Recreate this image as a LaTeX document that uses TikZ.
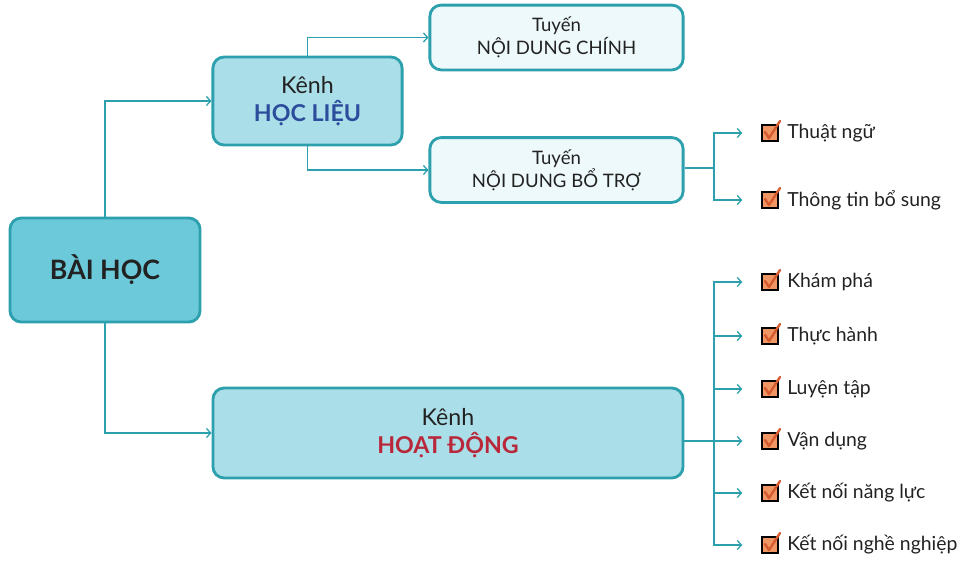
\documentclass[tikz,border=0pt]{standalone}
\usepackage{fontspec}
\setmainfont{Lato}
\usetikzlibrary{arrows.meta, positioning}
\definecolor{myteal}{RGB}{44,160,172}
\definecolor{mycyan}{RGB}{108,201,217}
\definecolor{mylight}{RGB}{170,222,232}
\definecolor{mypale}{RGB}{238,249,251}
\definecolor{myblue}{RGB}{44,76,156}
\definecolor{myred}{RGB}{184,40,58}
\definecolor{mypeach}{RGB}{240,150,100}
\definecolor{mytick}{RGB}{214,92,48}
\definecolor{mytext}{RGB}{34,34,34}
\tikzset{
  >={Straight Barb[length=3pt,width=6.5pt]},
  box/.style={draw=myteal, line width=2pt, rounded corners=8pt, align=center, text=mytext, inner sep=0},
  box main/.style={box, fill=mycyan, minimum width=4.75cm, minimum height=2.6cm, font=\fontsize{19}{23}\selectfont\bfseries},
  box kenh/.style={box, fill=mylight, minimum height=2.2cm, font=\fontsize{16.5}{20}\selectfont},
  box tuyen/.style={box, fill=mypale, minimum width=6.33cm, minimum height=1.62cm, font=\fontsize{13.2}{16.5}\selectfont},
  link/.style={myteal, line width=0.9pt},
  chkbox/.style={draw=black, line width=1.5pt, fill=mypeach, minimum size=0.42cm, inner sep=0},
  tick/.style={mytick, line width=1.7pt, line cap=round, line join=round},
  item/.style={anchor=west, text=mytext, inner sep=0, font=\fontsize{13.8}{17}\selectfont}
}

\begin{document}
\begin{tikzpicture}[x=0.025cm, y=-0.025cm]
\useasboundingbox (0,0) rectangle (965,560);

% Root
\node[box main] (baihoc) at (105,270) {BÀI HỌC};

% -------- Kenh 1 --------
\node[box kenh, minimum width=4.73cm] (hoclieu) at (307.5,101)
  {Kênh\\{\fontsize{16.5}{20}\selectfont\bfseries\color{myblue}HỌC LIỆU}};
\node[box tuyen] (chinh) at (556.5,37.5) {Tuyến\\NỘI DUNG CHÍNH};
\node[box tuyen] (botro) at (556.5,170) {Tuyến\\NỘI DUNG BỔ TRỢ};

% -------- Kenh 2 --------
\node[box kenh, minimum width=11.75cm, minimum height=2.25cm] (hoatdong) at (448,433)
  {Kênh\\{\fontsize{16.5}{20}\selectfont\bfseries\color{myred}HOẠT ĐỘNG}};

% Forks
\coordinate (fork1) at (714,168);
\coordinate (fork2) at (714,441);

% Checklist items
\foreach \i/\y/\t in {1/133/Thuật ngữ, 2/200/Thông tin bổ sung,
    3/282/Khám phá, 4/336/Thực hành, 5/389/Luyện tập, 6/441/Vận dụng,
    7/493/Kết nối năng lực, 8/545/Kết nối nghề nghiệp}{
  \node[chkbox] (b\i) at (770,\y) {};
  \draw[tick] (b\i.center) ++(-5,-1) -- ++(4,6) -- ++(11,-17);
  \node[item] (t\i) at (787,\y) {\t};
}

% Connections from root
\draw[link,->] (baihoc.north) |- (hoclieu.west);
\draw[link,->] (baihoc.south) |- (hoatdong.west);

% Connections from Kenh 1
\draw[link,->] (hoclieu.north) |- (chinh.west);
\draw[link,->] (hoclieu.south) |- (botro.west);

% Branches to the checklist
\draw[link] (botro.east |- fork1) -- (fork1);
\draw[link] (hoatdong.east |- fork2) -- (fork2);
\foreach \i in {1,2}
  \draw[link,->,shorten >=13pt] (fork1) |- (b\i.west);
\foreach \i in {3,...,8}
  \draw[link,->,shorten >=13pt] (fork2) |- (b\i.west);

\end{tikzpicture}
\end{document}
